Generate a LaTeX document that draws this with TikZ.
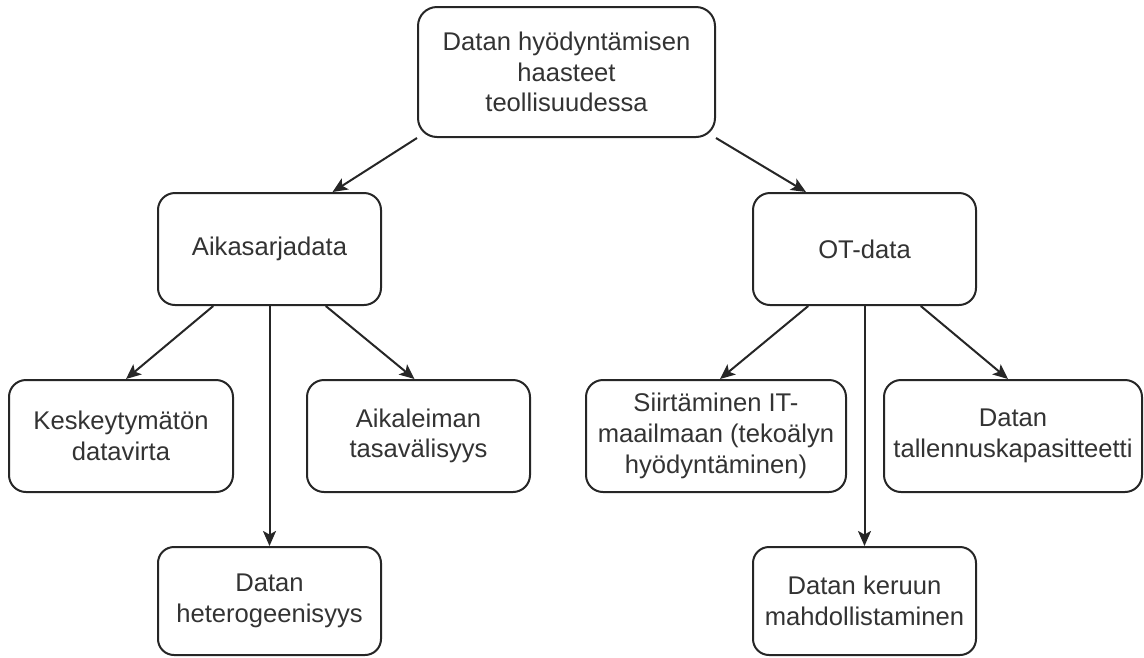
\documentclass[tikz,border=0pt]{standalone}
\usepackage{fontspec}
\setmainfont{Liberation Sans}
\usetikzlibrary{arrows.meta,calc}

\newcommand{\boxfont}{\fontsize{25.6}{30.7}\selectfont}

\tikzset{
  topic/.style={draw=black!85, line width=2pt, fill=white,
    rounded corners=17pt, align=center, inner sep=0pt,
    text=black!80, font=\boxfont,
    minimum width=223pt, minimum height=112pt},
  link/.style={draw=black!85, line width=2pt,
    -{Stealth[length=15pt,width=13pt,inset=3.5pt]}}
}

\begin{document}
\begin{tikzpicture}[x=1pt,y=-1pt]
  \useasboundingbox (0,0) rectangle (1144,657);

  % root
  \node[topic, minimum width=297pt, minimum height=130pt, rounded corners=19pt]
    (root) at (566.5,72) {Datan hyödyntämisen\\haasteet\\teollisuudessa};

  % second level
  \node[topic] (aika) at (269.5,249) {Aikasarjadata};
  \node[topic] (ot)   at (864.5,249) {OT-data};

  % third level
  \node[topic, minimum width=224pt] (kesk)  at (121,436)   {Keskeytymätön\\datavirta};
  \node[topic]                      (aikal) at (418.5,436) {Aikaleiman\\tasavälisyys};
  \node[topic, minimum width=260pt] (siir)  at (716,436)   {Siirtäminen IT-\\maailmaan (tekoälyn\\hyödyntäminen)};
  \node[topic, minimum width=258pt] (tall)  at (1013,436)  {Datan\\tallennuskapasitteetti};

  % bottom level
  \node[topic, minimum height=108pt, rounded corners=16pt] (hete)  at (269.5,601) {Datan\\heterogeenisyys};
  \node[topic, minimum height=108pt, rounded corners=16pt] (keruu) at (864.5,601) {Datan keruun\\mahdollistaminen};

  % connectors from the root
  \draw[link] (root.south west) -- ($(aika.north west)!0.78!(aika.north east)$);
  \draw[link] (root.south east) -- ($(ot.north west)!0.24!(ot.north east)$);

  % connectors from Aikasarjadata
  \draw[link] ($(aika.south west)!0.25!(aika.south east)$) -- ([xshift=5pt]kesk.north);
  \draw[link] ($(aika.south west)!0.75!(aika.south east)$) -- ([xshift=-4pt]aikal.north);
  \draw[link] (aika.south) -- (hete.north);

  % connectors from OT-data
  \draw[link] ($(ot.south west)!0.25!(ot.south east)$) -- ([xshift=4pt]siir.north);
  \draw[link] ($(ot.south west)!0.75!(ot.south east)$) -- ([xshift=-5pt]tall.north);
  \draw[link] (ot.south) -- (keruu.north);
\end{tikzpicture}
\end{document}
